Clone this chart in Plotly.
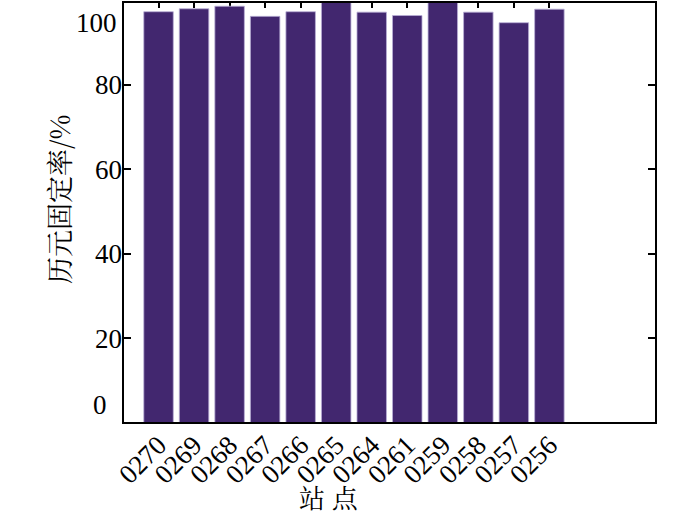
import plotly.graph_objects as go

stations = ["0270", "0269", "0268", "0267", "0266", "0265", "0264", "0261", "0259", "0258", "0257", "0256"]
fix_rate = [97.3, 98.0, 98.6, 96.2, 97.3, 100.5, 97.2, 96.4, 100.5, 97.2, 94.7, 97.9]
y_ticks = [20, 40, 60, 80]
y_edge_ticks = [0, 100]

bar_color = "#42276f"
font_main = "Liberation Serif, 'Noto Sans CJK SC', serif"
font_cjk = "'Noto Serif CJK SC', 'Noto Sans CJK SC', serif"

fig = go.Figure()
fig.add_trace(go.Bar(
    x=stations, y=fix_rate,
    marker=dict(color=bar_color, line=dict(color="#b9aed6", width=0.8)),
    width=0.83,
))

fig.update_layout(
    width=700, height=517,
    margin=dict(l=123, r=44, t=2, b=94, autoexpand=False),
    paper_bgcolor="white", plot_bgcolor="white",
    showlegend=False,
    font=dict(family=font_main, size=27, color="black"),
    xaxis=dict(
        type="category", categoryorder="array", categoryarray=stations,
        range=[-1, 14],
        ticks="inside", ticklen=6, tickwidth=1.5, tickcolor="black",
        mirror="ticks", showline=False, showgrid=False, zeroline=False,
        tickangle=-45, tickfont=dict(family=font_main, size=27),
        layer="below traces",
    ),
    yaxis=dict(
        range=[0, 99.6],
        tickvals=y_ticks, ticktext=[str(v) for v in y_ticks],
        ticks="inside", ticklen=8, tickwidth=1.5, tickcolor="black",
        mirror="ticks", showline=False, showgrid=False, zeroline=False,
        tickfont=dict(family=font_main, size=27),
        layer="below traces",
    ),
    shapes=[dict(type="rect", xref="paper", yref="paper", x0=0, x1=1, y0=0, y1=1,
                 line=dict(color="black", width=2), layer="above")],
)

# edge tick labels (0 and 100) shifted inward as in the reference
fig.add_annotation(x=0, xref="paper", y=0, yref="paper", text=str(y_edge_ticks[0]),
                   showarrow=False, xanchor="right", yanchor="middle", xshift=-14, yshift=18,
                   font=dict(family=font_main, size=27))
fig.add_annotation(x=0, xref="paper", y=1, yref="paper", text=str(y_edge_ticks[1]),
                   showarrow=False, xanchor="right", yanchor="middle", xshift=-4, yshift=-21,
                   font=dict(family=font_main, size=27))

# axis titles
fig.add_annotation(x=0.386, xref="paper", y=-0.175, yref="paper", text="站 点",
                   showarrow=False, xanchor="center", yanchor="middle",
                   font=dict(family=font_cjk, size=26))
fig.add_annotation(x=-0.12, xref="paper", y=0.53, yref="paper", text="历元固定率/%",
                   showarrow=False, xanchor="center", yanchor="middle", textangle=-90,
                   font=dict(family=font_cjk, size=27))

fig.write_html("out.html", config={"displayModeBar": False},
               post_script="document.body.style.margin='0';document.body.style.overflow='hidden';")
